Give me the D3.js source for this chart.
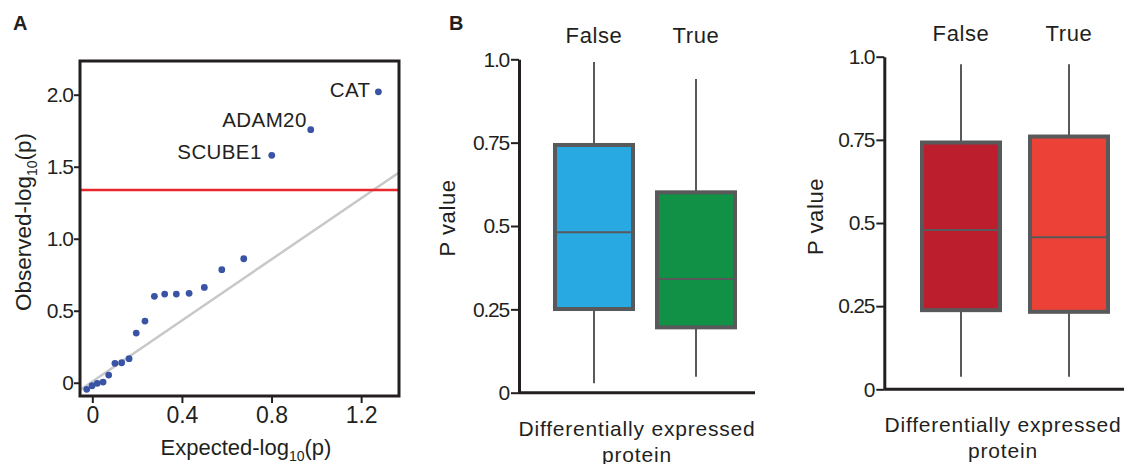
<!DOCTYPE html>
<html>
<head>
<meta charset="utf-8">
<title>QQ plot and P value boxplots</title>
<script src="https://cdn.jsdelivr.net/npm/d3@7"></script>
<style>
  body { margin: 0; background: #fff; }
  text { font-family: "Liberation Sans", Arial, sans-serif; fill: #231f20; }
</style>
</head>
<body>
<script>
// ---- data: panel A (QQ plot) ----
var expected = [-0.025, -0.001, 0.022, 0.048, 0.073, 0.101, 0.131, 0.164, 0.196, 0.235,
                0.277, 0.323, 0.375, 0.432, 0.5, 0.578, 0.676, 0.801, 0.975, 1.277];
var observed = [-0.046, -0.021, -0.004, 0.005, 0.053, 0.135, 0.139, 0.167, 0.345, 0.428,
                0.6, 0.616, 0.616, 0.621, 0.662, 0.785, 0.861, 1.579, 1.757, 2.02];
var geneNames = ["SCUBE1", "ADAM20", "CAT"];
var geneIdx = [17, 18, 19];
var threshold = 1.338;
var diagX = [-0.055, 1.369];
var diagY = [-0.05, 1.46];
var qqXTicks = [0, 0.4, 0.8, 1.2];
var qqXLabels = ["0", "0.4", "0.8", "1.2"];
var qqYTicks = [0, 0.5, 1.0, 1.5, 2.0];
var qqYLabels = ["0", "0.5", "1.0", "1.5", "2.0"];

// ---- data: panel B (box plots) ----
var groups = ["False", "True"];
var pTicks = [0, 0.25, 0.5, 0.75, 1.0];
var pLabels = ["0", "0.25", "0.5", "0.75", "1.0"];
// [min, q1, median, q3, max]
var box1 = [[0.028, 0.251, 0.481, 0.743, 0.992], [0.048, 0.196, 0.341, 0.601, 0.941]];
var box2 = [[0.038, 0.238, 0.479, 0.742, 0.977], [0.038, 0.233, 0.457, 0.76, 0.977]];
var colors1 = ["#29a9e1", "#109146"];
var colors2 = ["#bc1e2e", "#eb4136"];

var W = 1124, H = 464;
var svg = d3.select("body").append("svg").attr("width", W).attr("height", H);

/////////// PANEL A ///////////
svg.append("text").text("A").attr("x", 13).attr("y", 30)
   .attr("font-size", "20px").attr("font-weight", "bold");

var ax = d3.scaleLinear().domain([-0.055, 1.369]).range([80, 399]);
var ay = d3.scaleLinear().domain([-0.092, 2.234]).range([396, 61]);

var gA = svg.append("g");
gA.append("defs").append("clipPath").attr("id", "clipA")
  .append("rect").attr("x", 80).attr("y", 61).attr("width", 319).attr("height", 335);

var yAxA = d3.axisLeft(ay).tickValues(qqYTicks).tickSize(6).tickPadding(1)
  .tickFormat(function(d, i){ return qqYLabels[i]; });
var gy = gA.append("g").attr("transform", "translate(80,0)").call(yAxA);
gy.select(".domain").remove();
gy.selectAll("line").attr("stroke", "#231f20").attr("stroke-width", 2);
gy.selectAll("text").attr("font-size", "21px").attr("letter-spacing", "-1px")
  .attr("font-family", "Liberation Sans, Arial, sans-serif").attr("fill", "#231f20");

var xAxA = d3.axisBottom(ax).tickValues(qqXTicks).tickSize(7).tickPadding(4)
  .tickFormat(function(d, i){ return qqXLabels[i]; });
var gx = gA.append("g").attr("transform", "translate(0,396)").call(xAxA);
gx.select(".domain").remove();
gx.selectAll("line").attr("stroke", "#231f20").attr("stroke-width", 2);
gx.selectAll("text").attr("font-size", "23px")
  .attr("font-family", "Liberation Sans, Arial, sans-serif").attr("fill", "#231f20");

var plotA = gA.append("g").attr("clip-path", "url(#clipA)");
// expected line
plotA.append("line")
  .attr("x1", ax(diagX[0])).attr("y1", ay(diagY[0]))
  .attr("x2", ax(diagX[1])).attr("y2", ay(diagY[1]))
  .attr("stroke", "#c8c8c8").attr("stroke-width", 2.5);
// significance line
plotA.append("line")
  .attr("x1", 80).attr("x2", 399)
  .attr("y1", ay(threshold)).attr("y2", ay(threshold))
  .attr("stroke", "#e8262b").attr("stroke-width", 2.5);

plotA.selectAll("circle")
  .data(expected)
  .enter()
  .append("circle")
  .attr("cx", function(d){ return ax(d); })
  .attr("cy", function(d, i){ return ay(observed[i]); })
  .attr("r", 3.4)
  .attr("fill", "#3a54a5");

// gene labels
var labelShift = { SCUBE1: [-10, 4], ADAM20: [-4, -3], CAT: [-8, 5] };
gA.selectAll("text.gene")
  .data(geneNames)
  .enter()
  .append("text")
  .attr("class", "gene")
  .text(function(d){ return d; })
  .attr("x", function(d, i){ return ax(expected[geneIdx[i]]) + labelShift[d][0]; })
  .attr("y", function(d, i){ return ay(observed[geneIdx[i]]) + labelShift[d][1]; })
  .attr("text-anchor", "end")
  .attr("font-size", "20.5px")
  .attr("letter-spacing", "0.4px");

// frame
gA.append("rect").attr("x", 80).attr("y", 61).attr("width", 319).attr("height", 335)
  .attr("fill", "none").attr("stroke", "#231f20").attr("stroke-width", 3);

// axis titles
var xt = gA.append("text").attr("x", 246).attr("y", 455).attr("text-anchor", "middle")
  .attr("font-size", "22px");
xt.append("tspan").text("Expected-log");
xt.append("tspan").text("10").attr("font-size", "14px").attr("dy", 6);
xt.append("tspan").text("(p)").attr("dy", -6);

var yt = gA.append("text").attr("transform", "translate(31,222) rotate(-90)")
  .attr("text-anchor", "middle").attr("font-size", "22.5px");
yt.append("tspan").text("Observed-log");
yt.append("tspan").text("10").attr("font-size", "14px").attr("dy", 6);
yt.append("tspan").text("(p)").attr("dy", -6);

/////////// PANEL B ///////////
svg.append("text").text("B").attr("x", 449).attr("y", 30)
   .attr("font-size", "20px").attr("font-weight", "bold");

function boxPanel(axisX, y0, y1, xEnd, centers, stats, fills, yLab, yLabMid, xLabCenter, xLabY) {
  var py = d3.scaleLinear().domain([0, 1]).range([y0, y1]);
  var px = d3.scalePoint().domain(groups).range(centers);
  var g = svg.append("g");
  var bw = 78;

  var yAx = d3.axisLeft(py).tickValues(pTicks).tickSize(8).tickSizeOuter(0).tickPadding(2)
    .tickFormat(function(d, i){ return pLabels[i]; });
  var ga = g.append("g").attr("transform", "translate(" + axisX + ",0)").call(yAx);
  ga.select(".domain").attr("stroke", "#231f20").attr("stroke-width", 3);
  ga.selectAll("line").attr("stroke", "#231f20").attr("stroke-width", 2);
  ga.selectAll("text").attr("font-size", "21px").attr("letter-spacing", "-1.2px")
    .attr("font-family", "Liberation Sans, Arial, sans-serif").attr("fill", "#231f20");
  // baseline
  g.append("line").attr("x1", axisX).attr("x2", xEnd)
    .attr("y1", py(0)).attr("y2", py(0))
    .attr("stroke", "#231f20").attr("stroke-width", 3);

  var b = g.selectAll("g.box").data(stats).enter().append("g").attr("class", "box");
  // whiskers
  b.append("line")
    .attr("x1", function(d, i){ return px(groups[i]); })
    .attr("x2", function(d, i){ return px(groups[i]); })
    .attr("y1", function(d){ return py(d[0]); })
    .attr("y2", function(d){ return py(d[4]); })
    .attr("stroke", "#58595b").attr("stroke-width", 2);
  b.append("rect")
    .attr("x", function(d, i){ return px(groups[i]) - bw / 2; })
    .attr("y", function(d){ return py(d[3]); })
    .attr("width", bw)
    .attr("height", function(d){ return py(d[1]) - py(d[3]); })
    .attr("fill", function(d, i){ return fills[i]; })
    .attr("stroke", "#58595b").attr("stroke-width", 4);
  b.append("line")
    .attr("x1", function(d, i){ return px(groups[i]) - bw / 2; })
    .attr("x2", function(d, i){ return px(groups[i]) + bw / 2; })
    .attr("y1", function(d){ return py(d[2]); })
    .attr("y2", function(d){ return py(d[2]); })
    .attr("stroke", "#58595b").attr("stroke-width", 2);

  // group labels on top
  g.selectAll("text.grp").data(groups).enter().append("text")
    .attr("class", "grp")
    .text(function(d){ return d; })
    .attr("x", function(d){ return px(d); })
    .attr("y", y1 - 16)
    .attr("text-anchor", "middle")
    .attr("font-size", "22px").attr("letter-spacing", "0.6px");

  g.append("text").text("P value")
    .attr("transform", "translate(" + yLab + "," + yLabMid + ") rotate(-90)")
    .attr("text-anchor", "middle").attr("font-size", "22px").attr("letter-spacing", "0.6px");

  g.append("text").text("Differentially expressed")
    .attr("x", xLabCenter).attr("y", xLabY).attr("text-anchor", "middle")
    .attr("font-size", "21px").attr("letter-spacing", "0.8px");
  g.append("text").text("protein")
    .attr("x", xLabCenter).attr("y", xLabY + 26).attr("text-anchor", "middle")
    .attr("font-size", "21px").attr("letter-spacing", "0.8px");
}

boxPanel(519, 392.7, 59.3, 755, [594, 696], box1, colors1, 455, 218, 637, 436);
boxPanel(884.3, 389.3, 56.7, 1124, [961, 1069], box2, colors2, 823, 216.5, 1003, 432);
</script>
</body>
</html>
